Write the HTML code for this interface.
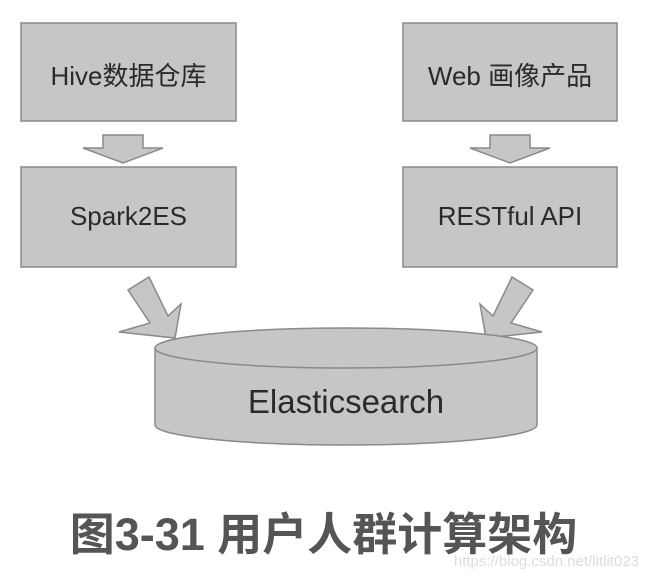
<!DOCTYPE html>
<html><head><meta charset="utf-8"><style>
html,body{margin:0;padding:0;background:#fff;}
body{width:647px;height:580px;position:relative;overflow:hidden;font-family:"Liberation Sans","Noto Sans CJK SC",sans-serif;}
.t{position:absolute;text-align:center;color:#2a2a2a;font-size:26px;}
</style></head><body>
<svg width="647" height="580" style="position:absolute;left:0;top:0">
<g fill="#c6c6c6" stroke="#8a8a8a" stroke-width="1.5">
<rect x="21" y="23" width="215" height="98"/>
<rect x="403" y="23" width="214" height="98"/>
<rect x="21" y="167" width="215" height="100"/>
<rect x="403" y="167" width="214" height="100"/>
<polygon points="103,135 143,135 143,148 163,148 123,163 83,148 103,148"/>
<polygon points="490,135 530,135 530,148 550,148 510,163 470,148 490,148"/>
<polygon points="128,290 149,277 168,316 181,304 175,338 119,332 150,323"/>
<polygon points="533,290 512,277 493,316 480,304 486,338 542,332 511,323"/>
<path d="M155,348 L155,425 A191,20 0 0 0 537,425 L537,348 Z"/>
<ellipse cx="346" cy="348" rx="191" ry="20"/>
</g>
</svg>
<div class="t" style="left:21px;top:56px;width:215px;">Hive数据仓库</div>
<div class="t" style="left:403px;top:56px;width:214px;">Web 画像产品</div>
<div class="t" style="left:21px;top:201px;width:215px;">Spark2ES</div>
<div class="t" style="left:403px;top:201px;width:214px;">RESTful API</div>
<div class="t" style="left:155px;top:383px;width:382px;font-size:33px;">Elasticsearch</div>
<div style="position:absolute;left:0;top:498px;width:647px;text-align:center;font-size:45px;font-weight:bold;color:#555;">图3-31 用户人群计算架构</div>
<div style="position:absolute;right:8px;top:553px;font-size:15px;color:#ddd;">https://blog.csdn.net/litlit023</div>
</body></html>
